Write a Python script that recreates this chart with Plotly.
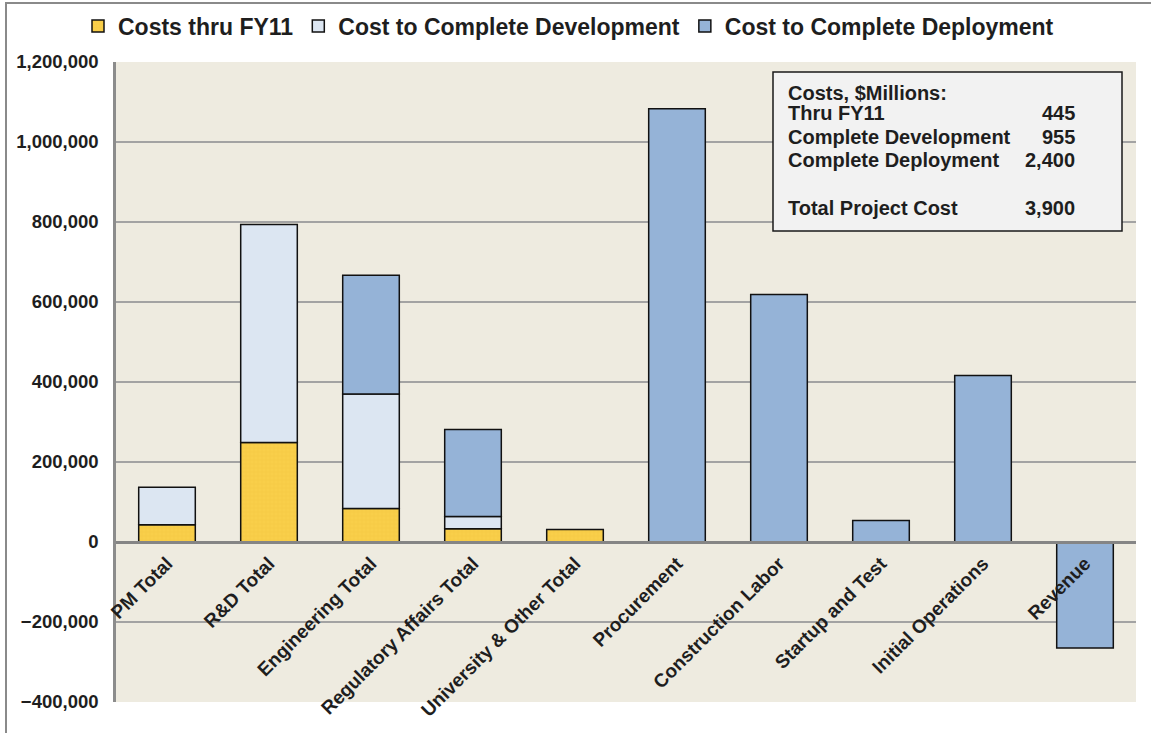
import plotly.graph_objects as go

# ---------------- data ----------------
categories = ["PM Total", "R&D Total", "Engineering Total", "Regulatory Affairs Total",
              "University & Other Total", "Procurement", "Construction Labor",
              "Startup and Test", "Initial Operations", "Revenue"]
costs_thru_fy11 = [43000, 249000, 84000, 33000, 31000, None, None, None, None, None]
cost_complete_dev = [94000, 545000, 286000, 31000, None, None, None, None, None, None]
cost_complete_deploy = [None, None, 297000, 217000, None, 1083000, 619000, 54000, 416000, -265000]

series_names = ["Costs thru FY11", "Cost to Complete Development", "Cost to Complete Deployment"]

box_labels = ["Thru FY11", "Complete Development", "Complete Deployment", "Total Project Cost"]
box_values = ["445", "955", "2,400", "3,900"]
box_title = "Costs, $Millions:"

y_range = [-400000, 1200000]
y_dtick = 200000

# ---------------- layout geometry (pixels) ----------------
W, H = 1151, 733
L, R, T, B = 116, 15, 62, 31
PW, PH = W - L - R, H - T - B


def px_x(px):
    return (px - L) / PW


def px_y(py):
    return (H - B - py) / PH


FONT = "Liberation Sans, Arial, sans-serif"
TXT = "#1e1e1e"

fig = go.Figure()
fig.add_trace(go.Bar(
    x=categories, y=costs_thru_fy11, name=series_names[0],
    marker=dict(color="#F9CF4A", line=dict(color="#111111", width=1.5),
                pattern=dict(shape="+", fgcolor="#EFC23C", bgcolor="#F9CF4A", size=4, solidity=0.25)),
))
fig.add_trace(go.Bar(
    x=categories, y=cost_complete_dev, name=series_names[1],
    marker=dict(color="#DCE6F2", line=dict(color="#111111", width=1.5)),
))
fig.add_trace(go.Bar(
    x=categories, y=cost_complete_deploy, name=series_names[2],
    marker=dict(color="#95B3D7", line=dict(color="#111111", width=1.5)),
))

# zero position of y in paper coords
zero_pos = (0 - y_range[0]) / (y_range[1] - y_range[0])

fig.update_layout(
    width=W, height=H,
    margin=dict(l=L, r=R, t=T, b=B, pad=0, autoexpand=False),
    barmode="relative",
    bargap=0.445,
    paper_bgcolor="white",
    plot_bgcolor="#EEEBE0",
    font=dict(family=FONT, color=TXT),
    showlegend=True,
    legend=dict(
        orientation="h", xref="container", x=(78) / W, xanchor="left",
        yref="container", y=1 - 26 / H, yanchor="middle",
        font=dict(size=23, family=FONT, color=TXT, weight="bold"),
        bgcolor="rgba(0,0,0,0)", traceorder="normal", itemclick=False,
    ),
    xaxis=dict(
        type="category", anchor="free", position=zero_pos, automargin=False,
        showgrid=False, zeroline=False,
        showline=True, linecolor="#858585", linewidth=3,
        ticks="outside", ticklen=1, tickcolor="rgba(0,0,0,0)",
        tickangle=-45,
        tickfont=dict(size=19, family=FONT, color=TXT, weight="bold"),
    ),
    yaxis=dict(
        range=y_range, dtick=y_dtick, tickformat=",d", automargin=False,
        showgrid=True, gridcolor="#A3A3A3", gridwidth=1.5,
        zeroline=False,
        showline=True, linecolor="#8C8C8C", linewidth=2.5,
        ticks="outside", ticklen=11, tickcolor="rgba(0,0,0,0)",
        tickfont=dict(size=18.5, family=FONT, color=TXT, weight="bold"),
    ),
)

# outer chart frame (left and top edges visible)
fig.add_shape(type="rect", xref="paper", yref="paper",
              x0=px_x(6), x1=px_x(W + 20), y0=px_y(H + 20), y1=px_y(3),
              line=dict(color="#8A8A8A", width=2), fillcolor="rgba(0,0,0,0)", layer="below")

# summary box
fig.add_shape(type="rect", xref="paper", yref="paper",
              x0=px_x(773), x1=px_x(1122), y0=px_y(231), y1=px_y(72),
              line=dict(color="#1a1a1a", width=1.5), fillcolor="#F2F2F2", layer="above")

line_y = [113.3, 136.7, 160.0, 207.7]
fig.add_annotation(text=box_title, xref="paper", yref="paper", x=px_x(786), y=px_y(92.7),
                   xanchor="left", yanchor="middle", showarrow=False,
                   font=dict(size=20, family=FONT, color=TXT, weight="bold"))
for lab, val, yy in zip(box_labels, box_values, line_y):
    fig.add_annotation(text=lab, xref="paper", yref="paper", x=px_x(786), y=px_y(yy),
                       xanchor="left", yanchor="middle", showarrow=False,
                       font=dict(size=20, family=FONT, color=TXT, weight="bold"))
    fig.add_annotation(text=val, xref="paper", yref="paper", x=px_x(1077), y=px_y(yy),
                       xanchor="right", yanchor="middle", showarrow=False,
                       font=dict(size=20, family=FONT, color=TXT, weight="bold"))

fig.write_html("out.html", config={"displayModeBar": False},
               post_script="document.body.style.margin='0';")
